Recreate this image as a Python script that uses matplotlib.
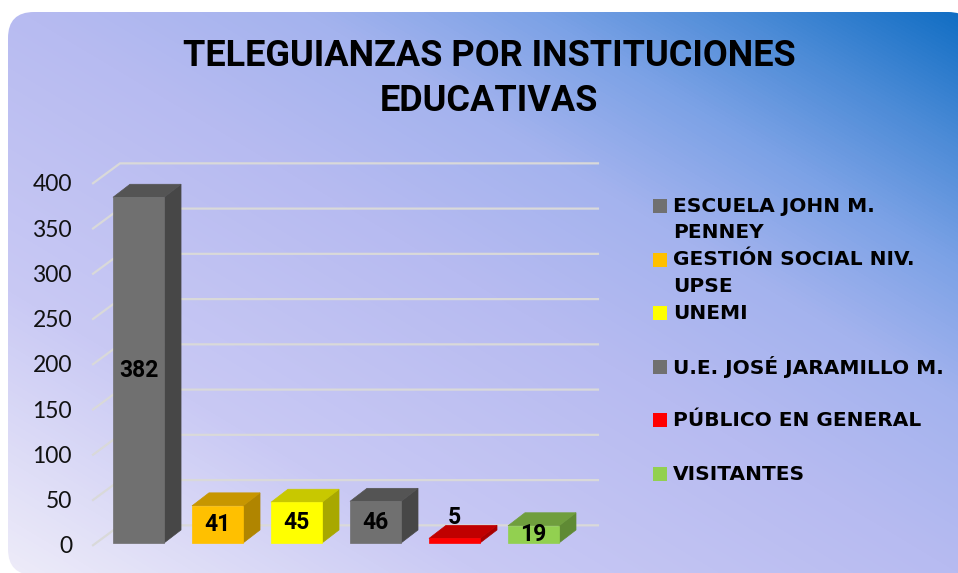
import numpy as np
import matplotlib
matplotlib.use('Agg')
import matplotlib.pyplot as plt
from matplotlib.patches import Polygon, FancyBboxPatch, Rectangle
from matplotlib.colors import LinearSegmentedColormap

# data
categories = ['ESCUELA JOHN M.\nPENNEY', 'GESTIÓN SOCIAL NIV.\nUPSE', 'UNEMI',
              'U.E. JOSÉ JARAMILLO M.', 'PÚBLICO EN GENERAL', 'VISITANTES']
values = [382, 41, 45, 46, 5, 19]
yticks = [0, 50, 100, 150, 200, 250, 300, 350, 400]
title_lines = ['TELEGUIANZAS POR INSTITUCIONES', 'EDUCATIVAS']

# front / top / side colours for each bar
front_cols = ['#707070', '#ffc000', '#ffff00', '#707070', '#ff0000', '#92d050']
top_cols = ['#545454', '#c79600', '#c8c800', '#545454', '#c00000', '#6f9e3d']
side_cols = ['#474747', '#b08500', '#a8a800', '#474747', '#a80000', '#5f8a34']

W, H = 958, 573
fig = plt.figure(figsize=(W / 100, H / 100), dpi=100)
fig.patch.set_facecolor('white')

# background panel with diagonal gradient
bg = fig.add_axes([0, 0, 1, 1])
bg.set_xlim(0, W)
bg.set_ylim(H, 0)
bg.axis('off')
xx, yy = np.meshgrid(np.linspace(0, 1, W), np.linspace(0, 1, H))
t = xx - yy
cmap = LinearSegmentedColormap.from_list('panel', [
    (0.0, '#eeecf9'), (0.25, '#c9c9f4'), (0.5, '#b7bbf1'),
    (0.65, '#a4b3ee'), (0.77, '#7ca2e6'), (0.88, '#4a8ad6'), (1.0, '#0c6cc2')])
img = bg.imshow(cmap((t + 1) / 2), extent=(0, W, H, 0), aspect='auto', zorder=0)
panel = FancyBboxPatch((8, 12), 966, 563, boxstyle='round,pad=0,rounding_size=26',
                       transform=bg.transData, facecolor='none', edgecolor='none')
bg.add_patch(panel)
img.set_clip_path(panel)

# main chart axes
ax = fig.add_axes([0.0374, 0.0129, 0.5937, 0.7344])
ax.set_xlim(-1.3, 5.9)
ax.set_ylim(-25, 440)
ax.axis('off')
ax.patch.set_alpha(0)

DX, DY = 0.215, 14.4        # bar depth
back_dy = 19.5              # back wall offset
front_x, back_x, end_x = -0.576, -0.234, 5.816
width = 0.646

for v in yticks:
    ax.plot([front_x, back_x, end_x], [v - 2.5, v + back_dy, v + back_dy],
            color='#d9d9d9', lw=1.6, solid_joinstyle='miter', zorder=1)
    ax.text(-0.842, v - 4.4, str(v), ha='right', va='center', fontsize=16.5,
            family='Lato', color='#111111')

for i, v in enumerate(values):
    x0, x1 = i - width / 2, i + width / 2
    front = Polygon([(x0, 0), (x1, 0), (x1, v), (x0, v)], closed=True,
                    facecolor=front_cols[i], edgecolor=front_cols[i], lw=0.5, zorder=3)
    top = Polygon([(x0, v), (x1, v), (x1 + DX, v + DY), (x0 + DX, v + DY)], closed=True,
                  facecolor=top_cols[i], edgecolor=top_cols[i], lw=0.5, zorder=3)
    side = Polygon([(x1, 0), (x1 + DX, DY), (x1 + DX, v + DY), (x1, v)], closed=True,
                   facecolor=side_cols[i], edgecolor=side_cols[i], lw=0.5, zorder=3)
    for p in (side, top, front):
        ax.add_patch(p)
    ly = v / 2 if v > 10 else v + DY + 9
    ax.text(i, ly, str(v), ha='center', va='center', fontsize=16.5, fontweight='bold',
            family='Roboto', color='black', zorder=5)

# title
fig.text(489 / W, 1 - 56 / H, title_lines[0], ha='center', va='center',
         fontsize=26, fontweight='bold', family='Roboto')
fig.text(489 / W, 1 - 101 / H, title_lines[1], ha='center', va='center',
         fontsize=26, fontweight='bold', family='Roboto')

# legend
for i, lab in enumerate(categories):
    y = 206 + 53.6 * i
    fig.patches.append(Rectangle((653 / W, 1 - (y + 7) / H), 14 / W, 14 / H,
                                 transform=fig.transFigure, facecolor=front_cols[i],
                                 edgecolor='none'))
    for j, line in enumerate(lab.split('\n')):
        fig.text(673 / W, 1 - (y + 27 * j) / H, line, ha='left', va='center',
                 fontsize=14.5, fontweight='bold', family='DejaVu Sans')

fig.savefig('out.png', dpi=100)
